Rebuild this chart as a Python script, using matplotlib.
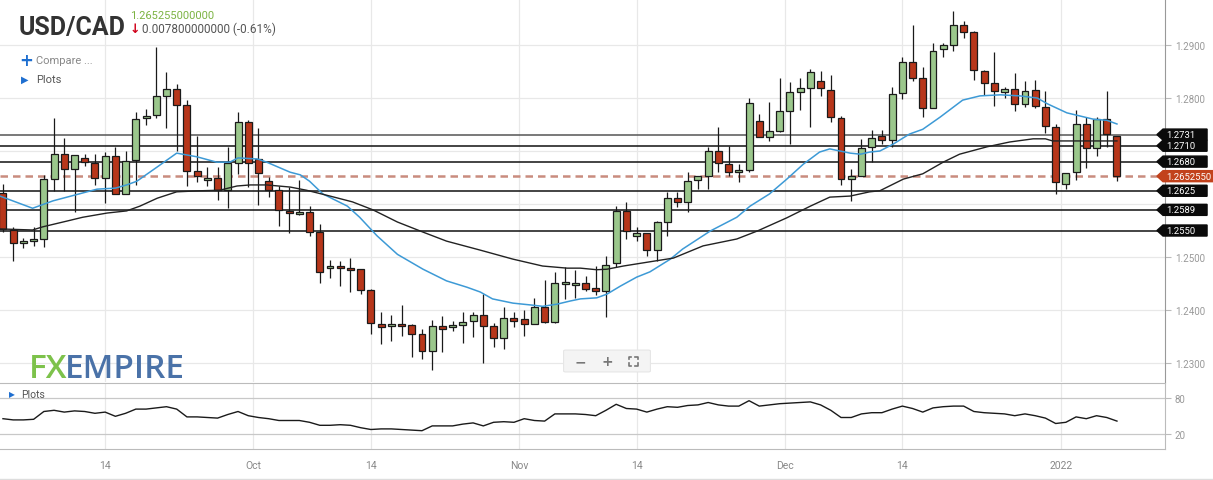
import numpy as np
import matplotlib.pyplot as plt
from matplotlib.patches import Polygon, FancyBboxPatch

plt.rcParams['font.family'] = ['Roboto', 'DejaVu Sans']

# daily USD/CAD candles, Sep 2021 - Jan 2022
opens = [1.2621, 1.2551, 1.2526, 1.2530, 1.2534, 1.2647, 1.2694, 1.2666, 1.2687, 1.2677,
         1.2649, 1.2691, 1.2619, 1.2683, 1.2762, 1.2768, 1.2804, 1.2817, 1.2787, 1.2662,
         1.2645, 1.2649, 1.2626, 1.2677, 1.2755, 1.2685, 1.2643, 1.2626, 1.2587, 1.2581,
         1.2585, 1.2547, 1.2479, 1.2483, 1.2479, 1.2477, 1.2438, 1.2374, 1.2370, 1.2374,
         1.2372, 1.2355, 1.2323, 1.2370, 1.2368, 1.2372, 1.2379, 1.2391, 1.2370, 1.2347,
         1.2385, 1.2383, 1.2374, 1.2406, 1.2377, 1.2449, 1.2447, 1.2451, 1.2442, 1.2436,
         1.2489, 1.2587, 1.2540, 1.2545, 1.2513, 1.2566, 1.2611, 1.2604, 1.2645, 1.2653,
         1.2700, 1.2675, 1.2660, 1.2664, 1.2757, 1.2726, 1.2738, 1.2775, 1.2811, 1.2819,
         1.2832, 1.2815, 1.2762, 1.2647, 1.2653, 1.2708, 1.2728, 1.2721, 1.2809, 1.2868,
         1.2838, 1.2781, 1.2892, 1.2900, 1.2938, 1.2925, 1.2851, 1.2828, 1.2811, 1.2817,
         1.2789, 1.2815, 1.2783, 1.2745, 1.2638, 1.2660, 1.2751, 1.2706, 1.2760, 1.2728]
highs = [1.2638, 1.2557, 1.2536, 1.2557, 1.2655, 1.2762, 1.2725, 1.2692, 1.2694, 1.2694,
         1.2698, 1.2708, 1.2700, 1.2774, 1.2779, 1.2896, 1.2849, 1.2826, 1.2796, 1.2728,
         1.2670, 1.2670, 1.2708, 1.2774, 1.2758, 1.2743, 1.2651, 1.2634, 1.2632, 1.2645,
         1.2596, 1.2562, 1.2494, 1.2492, 1.2498, 1.2478, 1.2439, 1.2396, 1.2391, 1.2409,
         1.2373, 1.2364, 1.2381, 1.2389, 1.2379, 1.2396, 1.2396, 1.2430, 1.2375, 1.2406,
         1.2396, 1.2400, 1.2423, 1.2457, 1.2472, 1.2481, 1.2476, 1.2464, 1.2483, 1.2502,
         1.2596, 1.2604, 1.2557, 1.2546, 1.2568, 1.2623, 1.2623, 1.2660, 1.2653, 1.2708,
         1.2745, 1.2709, 1.2675, 1.2800, 1.2770, 1.2792, 1.2838, 1.2830, 1.2838, 1.2855,
         1.2851, 1.2843, 1.2766, 1.2666, 1.2723, 1.2740, 1.2740, 1.2821, 1.2877, 1.2938,
         1.2858, 1.2904, 1.2904, 1.2964, 1.2945, 1.2926, 1.2852, 1.2887, 1.2821, 1.2847,
         1.2832, 1.2834, 1.2813, 1.2751, 1.2658, 1.2777, 1.2764, 1.2764, 1.2813, 1.2729]
lows = [1.2547, 1.2492, 1.2517, 1.2521, 1.2519, 1.2625, 1.2625, 1.2585, 1.2672, 1.2636,
        1.2602, 1.2619, 1.2619, 1.2636, 1.2749, 1.2762, 1.2743, 1.2700, 1.2634, 1.2642,
        1.2634, 1.2608, 1.2592, 1.2657, 1.2632, 1.2598, 1.2613, 1.2558, 1.2545, 1.2579,
        1.2540, 1.2451, 1.2460, 1.2445, 1.2434, 1.2430, 1.2355, 1.2336, 1.2341, 1.2351,
        1.2311, 1.2308, 1.2287, 1.2321, 1.2360, 1.2338, 1.2349, 1.2300, 1.2330, 1.2326,
        1.2368, 1.2351, 1.2373, 1.2376, 1.2376, 1.2421, 1.2423, 1.2436, 1.2428, 1.2387,
        1.2481, 1.2534, 1.2530, 1.2502, 1.2492, 1.2540, 1.2594, 1.2585, 1.2628, 1.2628,
        1.2660, 1.2653, 1.2642, 1.2660, 1.2726, 1.2719, 1.2736, 1.2713, 1.2777, 1.2745,
        1.2804, 1.2755, 1.2636, 1.2606, 1.2653, 1.2679, 1.2713, 1.2708, 1.2798, 1.2832,
        1.2764, 1.2781, 1.2877, 1.2889, 1.2913, 1.2834, 1.2806, 1.2785, 1.2800, 1.2775,
        1.2783, 1.2781, 1.2734, 1.2619, 1.2628, 1.2645, 1.2668, 1.2691, 1.2708, 1.2643]
closes = [1.2553, 1.2526, 1.2530, 1.2534, 1.2647, 1.2694, 1.2666, 1.2692, 1.2679, 1.2649,
          1.2691, 1.2619, 1.2681, 1.2760, 1.2766, 1.2804, 1.2817, 1.2787, 1.2662, 1.2653,
          1.2649, 1.2626, 1.2677, 1.2755, 1.2677, 1.2658, 1.2626, 1.2589, 1.2583, 1.2585,
          1.2547, 1.2472, 1.2483, 1.2479, 1.2476, 1.2438, 1.2375, 1.2368, 1.2374, 1.2370,
          1.2355, 1.2323, 1.2370, 1.2364, 1.2372, 1.2377, 1.2391, 1.2370, 1.2347, 1.2385,
          1.2379, 1.2374, 1.2406, 1.2377, 1.2451, 1.2453, 1.2451, 1.2440, 1.2436, 1.2485,
          1.2587, 1.2549, 1.2545, 1.2513, 1.2566, 1.2611, 1.2604, 1.2643, 1.2653, 1.2700,
          1.2677, 1.2660, 1.2664, 1.2791, 1.2726, 1.2738, 1.2775, 1.2811, 1.2819, 1.2849,
          1.2819, 1.2764, 1.2647, 1.2653, 1.2706, 1.2725, 1.2721, 1.2808, 1.2868, 1.2838,
          1.2781, 1.2889, 1.2900, 1.2938, 1.2925, 1.2853, 1.2828, 1.2813, 1.2817, 1.2789,
          1.2813, 1.2785, 1.2747, 1.2642, 1.2658, 1.2751, 1.2706, 1.2760, 1.2732, 1.26526]

# moving averages (candle index, price)
ma_fast_x = [-0.3, 2.9, 4.9, 9.2, 11.0, 12.1, 13.1, 15.1, 17.0, 19.0, 20.9, 22.2, 23.0, 24.9,
             25.8, 28.1, 29.1, 30.0, 31.3, 33.7, 34.9, 36.6, 38.6, 41.1, 43.4, 45.4, 46.7,
             47.9, 49.9, 51.9, 52.8, 54.2, 55.5, 56.5, 58.1, 59.1, 60.4, 62.0, 63.3, 65.3,
             66.5, 69.2, 71.8, 73.1, 75.0, 76.7, 78.3, 79.9, 80.9, 82.9, 83.9, 84.8, 85.8,
             87.1, 88.7, 90.0, 91.7, 93.9, 95.6, 97.6, 99.5, 101.2, 102.2, 104.1, 105.4,
             106.7, 108.0, 109.0]
ma_fast = [1.2615, 1.2592, 1.2606, 1.2628, 1.2630, 1.2636, 1.2643, 1.2670, 1.2696, 1.2689,
           1.2679, 1.2679, 1.2687, 1.2685, 1.2679, 1.2660, 1.2655, 1.2643, 1.2619, 1.2596,
           1.2575, 1.2540, 1.2505, 1.2477, 1.2455, 1.2443, 1.2434, 1.2421, 1.2413, 1.2409,
           1.2407, 1.2411, 1.2417, 1.2421, 1.2423, 1.2430, 1.2445, 1.2462, 1.2472, 1.2496,
           1.2515, 1.2549, 1.2575, 1.2596, 1.2619, 1.2647, 1.2675, 1.2698, 1.2704, 1.2696,
           1.2694, 1.2698, 1.2700, 1.2713, 1.2732, 1.2741, 1.2764, 1.2796, 1.2804, 1.2806,
           1.2804, 1.2800, 1.2789, 1.2772, 1.2766, 1.2760, 1.2758, 1.2751]
ma_slow_x = [-0.3, 2.9, 3.9, 6.3, 7.8, 10.2, 12.1, 13.4, 15.1, 17.0, 19.3, 21.2, 22.9, 24.2,
             25.8, 28.1, 29.7, 32.0, 34.2, 36.2, 38.6, 41.1, 43.4, 46.7, 49.9, 52.8, 55.2,
             56.5, 58.1, 59.1, 60.7, 63.3, 65.6, 68.5, 71.8, 73.8, 76.7, 79.0, 80.9, 82.9,
             84.8, 85.8, 88.1, 90.0, 92.0, 93.6, 96.3, 98.5, 100.8, 102.0, 102.7, 104.1,
             106.7, 109.0]
ma_slow = [1.2553, 1.2551, 1.2557, 1.2568, 1.2575, 1.2583, 1.2587, 1.2596, 1.2611, 1.2623,
           1.2625, 1.2626, 1.2634, 1.2636, 1.2636, 1.2632, 1.2626, 1.2615, 1.2604, 1.2589,
           1.2566, 1.2547, 1.2530, 1.2513, 1.2496, 1.2483, 1.2479, 1.2479, 1.2476, 1.2477,
           1.2483, 1.2491, 1.2498, 1.2521, 1.2534, 1.2549, 1.2574, 1.2596, 1.2613, 1.2615,
           1.2623, 1.2625, 1.2647, 1.2657, 1.2679, 1.2694, 1.2708, 1.2717, 1.2723, 1.2723,
           1.2719, 1.2719, 1.2719, 1.2719]

rsi = [46, 44, 44, 45, 58, 60, 57, 59, 58, 55, 57, 50, 55, 62, 62, 64, 66, 62, 49, 49,
       48, 47, 53, 58, 51, 48, 46, 43, 43, 43, 40, 35, 35, 36, 35, 31, 28, 29, 29, 28,
       27, 26, 34, 34, 34, 37, 39, 34, 40, 41, 40, 46, 43, 42, 54, 54, 54, 53, 51, 60,
       70, 63, 62, 57, 62, 66, 65, 68, 69, 73, 69, 67, 67, 76, 67, 69, 71, 72, 73, 74,
       69, 60, 48, 48, 54, 56, 56, 62, 67, 63, 57, 64, 66, 67, 67, 58, 56, 55, 54, 51,
       54, 51, 47, 38, 40, 49, 46, 51, 48, 42]

levels = [1.2731, 1.2710, 1.2680, 1.2625, 1.2589, 1.2550]
last_price = 1.265255
tick_pos = [10, 24.5, 36, 50.5, 62, 76.5, 88, 103.5]
tick_lab = ['14', 'Oct', '14', 'Nov', '14', 'Dec', '14', '2022']

W, H = 1213, 481
fig = plt.figure(figsize=(W / 100, H / 100), dpi=100)
ax = fig.add_axes([0, 1 - 383 / H, 1165 / W, 383 / H])
ax2 = fig.add_axes([0, 1 - 450 / H, 1165 / W, 66 / H], sharex=ax)

x = np.arange(len(closes))
o = np.array(opens); c = np.array(closes)
up = c >= o
body_lo = np.minimum(o, c)
body_h = np.maximum(np.abs(c - o), 0.00035)
ax.vlines(x, lows, highs, color='#1a1a1a', lw=0.9, zorder=3)
ax.bar(x, body_h, bottom=body_lo, width=0.68,
       color=np.where(up, '#9bc78c', '#b7361a'), edgecolor='#1a1a1a', linewidth=0.9, zorder=4)

ax.plot(ma_fast_x, ma_fast, color='#3d9ad6', lw=1.1, zorder=5)
ax.plot(ma_slow_x, ma_slow, color='#222222', lw=1.0, zorder=5)

for lv in levels:
    ax.axhline(lv, color='#555555' if lv == levels[0] else '#111111', lw=1.1, zorder=2)
ax.axhline(last_price, color='#c98c7e', lw=1.8, ls=(0, (3, 2)), zorder=2)

ax.set_xlim(-0.29, 113.7)
ax.set_ylim(1.22642, 1.29868)
# 1.2600 and 1.2700 sit behind the level tags
ax.set_yticks([1.23, 1.24, 1.25, 1.26, 1.27, 1.28, 1.29])
ax.set_yticklabels(['1.2300', '1.2400', '1.2500', '', '', '1.2800', '1.2900'])
ax.yaxis.tick_right()
ax.tick_params(axis='y', colors='#bbbbbb', labelcolor='#999999', labelsize=7, length=4, pad=3)
ax.tick_params(axis='x', length=0, labelbottom=False)
ax.set_xticks(tick_pos)
ax.grid(True, color='#e8e8e8', lw=0.9, zorder=0)
for s in ['top', 'left', 'bottom']:
    ax.spines[s].set_visible(False)
ax.spines['right'].set_color('#999999')

# price tags on the right
th = 0.00104
for lv in levels + [last_price]:
    col = '#c2421c' if lv == last_price else '#0a0a0a'
    right = 1.05 if lv == last_price else 1.0361
    poly = Polygon([(0.9931, lv), (0.9983, lv + th), (right, lv + th),
                    (right, lv - th), (0.9983, lv - th)], closed=True,
                   transform=ax.get_yaxis_transform(), facecolor=col, edgecolor=col,
                   clip_on=False, zorder=20)
    ax.add_patch(poly)
    txt = '1.2652550' if lv == last_price else f'{lv:.4f}'
    ax.text(1.0011, lv, txt, transform=ax.get_yaxis_transform(), color='white',
            fontsize=6.8, va='center', ha='left', clip_on=False, zorder=21)

# lower oscillator panel
ax2.plot(x, rsi, color='#1a1a1a', lw=1.0)
ax2.set_ylim(-4.5, 105.5)
ax2.set_yticks([20, 80])
ax2.yaxis.tick_right()
ax2.tick_params(axis='y', colors='#bbbbbb', labelcolor='#999999', labelsize=7, length=4, pad=3)
ax2.set_xticks(tick_pos)
ax2.set_xticklabels(tick_lab)
ax2.tick_params(axis='x', length=0, labelsize=7.5, labelcolor='#888888', pad=8)
ax2.grid(True, axis='x', color='#e8e8e8', lw=0.9)
ax2.grid(True, axis='y', color='#c8c8c8', lw=0.9)
ax2.spines['left'].set_visible(False)
for s in ['top', 'bottom', 'right']:
    ax2.spines[s].set_color('#bbbbbb')


def px(xp, yp):
    return xp / W, 1 - yp / H


# header texts
fig.text(*px(19, 35), 'USD/CAD', fontsize=18, fontweight='bold', color='#333333', va='baseline')
fig.text(*px(130, 19), '1.265255000000', fontsize=8, color='#7cb342', va='baseline')
fig.text(*px(130, 33), '↓', fontsize=9, fontweight='bold', color='#d0021b', va='baseline',
         family='DejaVu Sans')
fig.text(*px(142, 33), '0.007800000000 (-0.61%)', fontsize=8.5, color='#555555', va='baseline')
fig.text(*px(19, 61), '+', fontsize=12, fontweight='bold', color='#1f6fd0', va='center',
         family='DejaVu Sans')
fig.text(*px(36, 61), 'Compare ...', fontsize=8, color='#888888', va='center')
fig.text(*px(21, 80), '▶', fontsize=7, color='#1f6fd0', va='center', family='DejaVu Sans')
fig.text(*px(36, 80), 'Plots', fontsize=8, color='#555555', va='center')
fig.text(*px(9, 395), '▶', fontsize=5.5, color='#1f6fd0', va='center', family='DejaVu Sans')
fig.text(*px(21, 395), 'Plots', fontsize=7.5, color='#555555', va='center')

# logo
fig.text(*px(29, 378), 'FX', fontsize=24, fontweight='semibold', color='#7dc24b',
         va='baseline', family='Open Sans')
fig.text(*px(65, 378), 'EMPIRE', fontsize=24, fontweight='semibold', color='#4a72a8',
         va='baseline', family='Open Sans')

# zoom buttons
box = FancyBboxPatch(px(566, 372), 82 / W, 20 / H, boxstyle='round,pad=0.002',
                     transform=fig.transFigure, facecolor='#f4f4f4', edgecolor='#e6e6e6', lw=0.8)
fig.patches.append(box)
for bx, sym in [(580, '−'), (607, '+')]:
    fig.text(*px(bx, 362), sym, fontsize=10, color='#777777', ha='center', va='center',
             family='DejaVu Sans', fontweight='bold')
# fullscreen icon: four corner brackets
cx, cy, r, k = 633, 362, 4.5, 2.2
for sx in (-1, 1):
    for sy in (-1, 1):
        xs = [cx + sx * r, cx + sx * r, cx + sx * (r - k)]
        ys = [cy + sy * (r - k), cy + sy * r, cy + sy * r]
        fig.add_artist(plt.Line2D([v / W for v in xs], [1 - v / H for v in ys],
                                  transform=fig.transFigure, color='#777777', lw=1.2))

fig.add_artist(plt.Line2D([0, 1], [1 - 480 / H] * 2, transform=fig.transFigure,
                          color='#dddddd', lw=1))

fig.savefig('out.png', dpi=100)
